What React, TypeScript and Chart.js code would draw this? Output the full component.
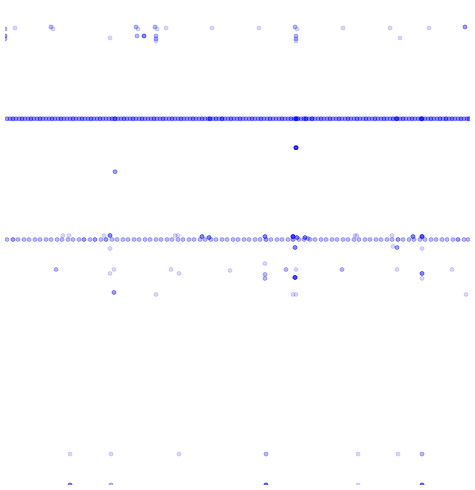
import React, { useEffect, useRef } from "react";
import { Chart, registerables } from "chart.js";

Chart.register(...registerables);

// Scattered observations: x, y and number of coincident records
const sparseX = [
  5, 5, 5, 15, 51, 53, 110, 136, 138, 137, 144, 155, 157, 156, 156, 156, 166, 212, 259, 295, 297, 296, 296, 296, 343, 390, 400, 429, 465,
  296, 115,
  63, 69, 104, 110, 110, 175, 178, 202, 209, 265, 293, 297, 305, 308, 295, 355, 357, 392, 413, 422, 393, 397, 422,
  56, 110, 114, 114, 156, 171, 179, 230, 265, 265, 265, 286, 296, 295, 293, 296, 342, 397, 422, 422, 452, 466,
  70, 111, 179, 266, 358, 398, 422,
  70, 111, 266, 358, 422,
];
const sparseY = [
  457, 450, 447, 458, 459, 457, 448, 459, 457, 450, 450, 459, 457, 450, 447, 445, 458, 458, 458, 459, 457, 450, 447, 445, 458, 458, 448, 458, 459,
  338, 314,
  250, 250, 250, 250, 237, 250, 250, 249, 248, 249, 249, 248, 248, 247, 238, 250, 250, 250, 249, 249, 239, 238, 237,
  216, 212, 216, 193, 191, 216, 212, 215, 222, 211, 207, 216, 216, 208, 191, 191, 216, 216, 212, 207, 216, 191,
  31, 31, 31, 31, 31, 31, 31,
  0, 0, 0, 0, 0,
];
const sparseN = [
  2, 3, 2, 1, 2, 1, 1, 2, 1, 2, 4, 2, 1, 2, 2, 1, 1, 1, 1, 2, 1, 2, 2, 1, 1, 1, 1, 1, 3,
  10, 3,
  1, 1, 1, 4, 1, 1, 1, 4, 4, 4, 8, 4, 4, 2, 4, 1, 1, 1, 4, 7, 1, 3, 1,
  2, 1, 1, 3, 1, 1, 1, 1, 1, 2, 2, 2, 1, 8, 1, 1, 2, 1, 4, 1, 1, 1,
  1, 1, 1, 2, 1, 1, 2,
  4, 2, 5, 1, 5,
];

// Dense band A
const rowAY = 367;
const rowAX = [
  7, 10, 13, 16, 19, 22, 25, 28, 31, 34, 37, 40, 43, 46, 49, 52, 55, 58, 61, 64, 67, 70, 73, 76, 79, 82, 85, 88, 91, 94,
  97, 100, 103, 106, 109, 112, 115, 118, 121, 124, 127, 130, 133, 136, 139, 142, 145, 148, 151, 154, 157, 160, 163, 166,
  169, 172, 175, 178, 181, 184, 187, 190, 193, 196, 199, 202, 205, 208, 210, 213, 216, 219, 222, 225, 228, 231, 234, 237,
  240, 243, 246, 249, 252, 255, 258, 261, 264, 267, 270, 273, 276, 279, 282, 285, 288, 291, 294, 296, 298, 301, 304, 306,
  309, 312, 315, 318, 321, 324, 327, 330, 333, 336, 339, 342, 345, 348, 351, 354, 357, 360, 363, 366, 369, 372, 375, 378,
  381, 384, 387, 390, 393, 396, 397, 400, 403, 406, 409, 412, 415, 418, 421, 422, 425, 428, 431, 434, 437, 440, 443, 446,
  449, 452, 455, 458, 461, 464, 467, 469,
];
const rowAN = [
  3, 3, 4, 3, 3, 4, 3, 3, 4, 3, 3, 4, 3, 3, 3, 4, 3, 3, 4, 3, 3, 3, 4, 3, 3, 4, 3, 3, 4, 3,
  3, 4, 3, 3, 3, 4, 6, 3, 3, 4, 3, 3, 4, 3, 3, 4, 3, 3, 3, 4, 3, 3, 4, 3,
  3, 4, 3, 3, 4, 3, 3, 3, 4, 3, 3, 4, 3, 3, 6, 3, 4, 3, 6, 3, 3, 4, 3, 3,
  4, 3, 3, 3, 4, 3, 3, 4, 3, 3, 4, 3, 3, 3, 4, 3, 3, 4, 3, 9, 4, 3, 4, 6,
  3, 6, 3, 3, 4, 3, 3, 4, 3, 3, 4, 3, 3, 4, 3, 3, 4, 3, 3, 4, 3, 3, 4, 3,
  3, 4, 3, 3, 4, 3, 6, 3, 4, 3, 3, 4, 3, 3, 4, 7, 3, 3, 4, 3, 3, 4, 3, 5,
  3, 4, 3, 3, 4, 3, 3, 4,
];

// Dense band B
const rowBY = 246;
const rowBX = [
  7, 13, 18, 24, 29, 35, 40, 46, 51, 57, 62, 68, 73, 79, 84, 90, 95, 101, 106, 112, 117, 123, 128, 134, 139, 145, 150, 156,
  161, 167, 172, 178, 183, 189, 194, 200, 205, 211, 216, 222, 227, 233, 238, 244, 249, 255, 260, 266, 271, 277, 282, 288,
  293, 299, 304, 310, 315, 321, 326, 332, 337, 343, 348, 354, 359, 365, 370, 376, 381, 387, 392, 398, 403, 409, 414, 420,
  425, 431, 436, 442, 447, 453, 458, 464, 468,
];
const rowBN = [
  2, 3, 2, 2, 2, 2, 2, 2, 2, 2, 2, 2, 2, 2, 3, 2, 3, 2, 3, 2, 2, 2, 2, 2, 2, 2, 2, 2,
  2, 2, 2, 2, 2, 2, 2, 2, 2, 2, 2, 2, 2, 2, 2, 2, 2, 2, 2, 3, 2, 2, 2, 2,
  3, 2, 2, 2, 2, 2, 2, 2, 2, 2, 2, 2, 2, 2, 2, 2, 2, 2, 2, 3, 2, 2, 2, 2,
  2, 2, 2, 2, 2, 2, 3, 2, 2,
];

function buildPoints() {
  const pts: { x: number; y: number }[] = [];
  const push = (x: number, y: number, n: number) => {
    for (let k = 0; k < n; k++) pts.push({ x, y });
  };
  rowAX.forEach((x, i) => push(x, rowAY, rowAN[i]));
  rowBX.forEach((x, i) => push(x, rowBY, rowBN[i]));
  sparseX.forEach((x, i) => push(x, sparseY[i], sparseN[i]));
  return pts;
}

export default function App() {
  const ref = useRef<HTMLCanvasElement | null>(null);
  useEffect(() => {
    if (!ref.current) return;
    const chart = new Chart(ref.current, {
      type: "scatter",
      data: {
        datasets: [
          {
            data: buildPoints(),
            pointRadius: 2,
            pointBorderWidth: 1,
            backgroundColor: "rgba(0,0,255,0.15)",
            borderColor: "rgba(0,0,255,0.15)",
            pointHoverRadius: 2,
          },
        ],
      },
      options: {
        animation: false,
        responsive: false,
        events: [],
        layout: { padding: { left: 5, right: 5, top: 0, bottom: 5 } },
        plugins: { legend: { display: false }, tooltip: { enabled: false } },
        scales: {
          x: { type: "linear", min: 5, max: 470, display: false },
          y: { type: "linear", min: 0, max: 483, display: false },
        },
      },
    });
    return () => chart.destroy();
  }, []);
  return (
    <div style={{ position: "fixed", left: 0, top: 0, width: 475, height: 490, background: "#fff" }}>
      <canvas ref={ref} width={475} height={490} />
    </div>
  );
}
